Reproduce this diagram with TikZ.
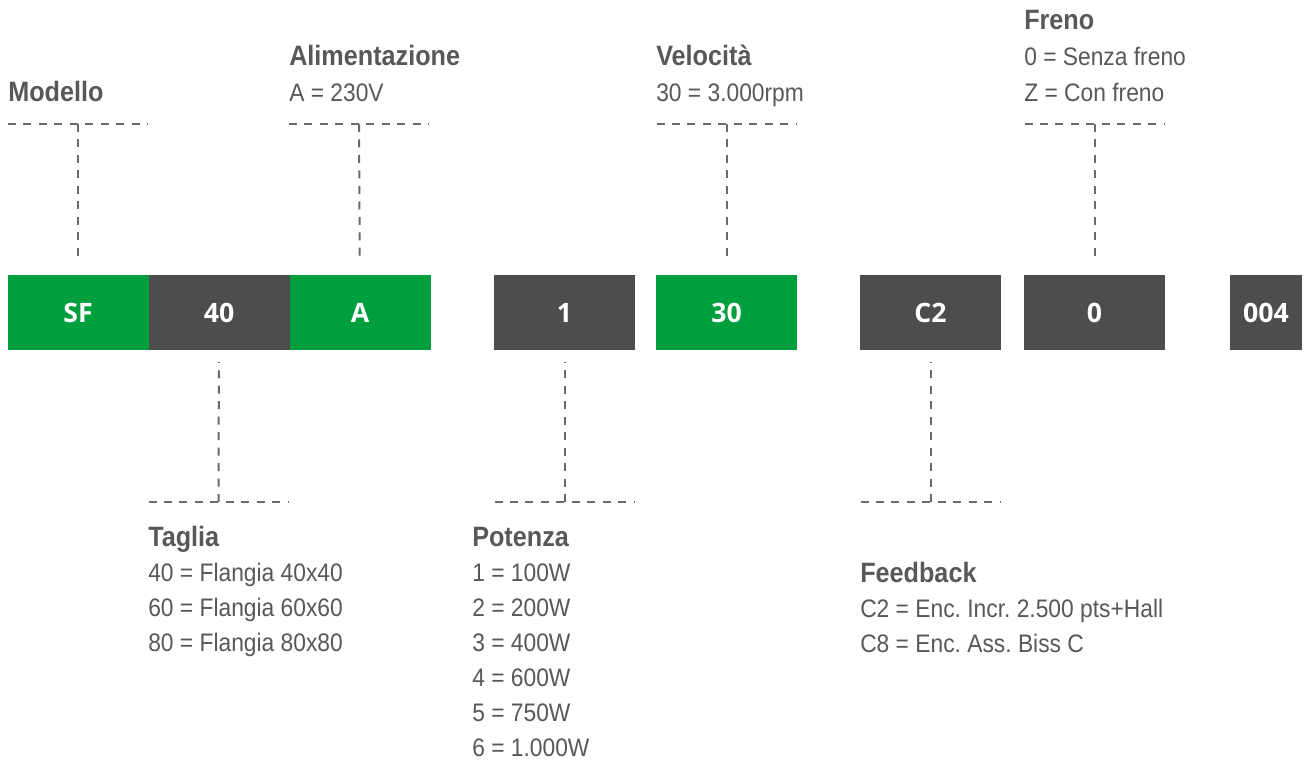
\documentclass[tikz,border=0pt]{standalone}
\usepackage{fontspec}
\setmainfont{Liberation Sans}[FakeStretch=0.9]
\newfontfamily\codefont{Open Sans}
\usetikzlibrary{positioning}
\frenchspacing

\definecolor{codegreen}{HTML}{009F3D}
\definecolor{codegrey}{HTML}{4F4D4B}
\definecolor{textgrey}{HTML}{58585A}
\definecolor{linegrey}{HTML}{6A6A6A}

\begin{document}
\begin{tikzpicture}[x=0.75pt, y=-0.75pt]

\tikzset{
  field/.style = {minimum height=56.25pt, minimum width=105.75pt, inner sep=0pt, outer sep=0pt, text=white, font=\codefont\bfseries\fontsize{20}{24}\selectfont},
  greenfield/.style = {field, fill=codegreen},
  greyfield/.style = {field, fill=codegrey},
  guide/.style = {draw=linegrey, line width=1.5pt, dash pattern=on 6pt off 5.6pt},
  head/.style = {anchor=base west, inner sep=0pt, text=textgrey, font=\bfseries\fontsize{21}{25}\selectfont},
  val/.style = {anchor=base west, inner sep=0pt, text=textgrey, font=\fontsize{19}{23}\selectfont}
}

\useasboundingbox (0,0) rectangle (1306,764);

%Code fields
\node [greenfield] at (78,312.5) (sf) {SF};
\node [greyfield, right=0pt of sf] (f40) {40};
\node [greenfield, right=0pt of f40] (fa) {A};
\node [greyfield] at (564.5,312.5) (f1) {1};
\node [greenfield] at (726.5,312.5) (f30) {30};
\node [greyfield] at (930.5,312.5) (fc2) {C2};
\node [greyfield] at (1094.5,312.5) (f0) {0};
\node [greyfield, minimum width=54pt] at (1266,312.5) (f004) {004};

%Labels above
\node [head] at (8,101) (modello) {Modello};

\node [head] at (289,65) (alim) {Alimentazione};
\node [val] at (289,101) (alim-1) {A = 230V};

\node [head] at (656,65) (velocita) {Velocità};
\node [val] at (656,101) (velocita-1) {30 = 3.000rpm};

\node [head] at (1024,29) (freno) {Freno};
\foreach \t [count=\i] in {0 = Senza freno, Z = Con freno}
  \node [val] at (1024,29+36*\i) (freno-\i) {\t};

%Labels below
\node [head] at (148,546) (taglia) {Taglia};
\foreach \t [count=\i] in {40 = Flangia 40x40, 60 = Flangia 60x60, 80 = Flangia 80x80}
  \node [val] at (148,546+35*\i) (taglia-\i) {\t};

\node [head] at (472,546) (potenza) {Potenza};
\foreach \t [count=\i] in {1 = 100W, 2 = 200W, 3 = 400W, 4 = 600W, 5 = 750W, 6 = 1.000W}
  \node [val] at (472,546+35*\i) (potenza-\i) {\t};

\node [head] at (860,582) (feedback) {Feedback};
\foreach \t [count=\i] in {C2 = Enc. Incr. 2.500 pts+Hall, C8 = Enc. Ass. Biss C}
  \node [val] at (860,582+35*\i) (feedback-\i) {\t};

%Guide lines
\coordinate (modello-tap) at (78,124);
\coordinate (alim-tap) at (359,124);
\coordinate (velocita-tap) at (726.5,124);
\coordinate (freno-tap) at (1094.5,124);
\coordinate (taglia-tap) at (218.5,502);
\coordinate (potenza-tap) at (564.5,502);
\coordinate (feedback-tap) at (930.5,502);

\draw [guide] (modello-tap) ++(-70,0) -- ++(140,0);
\draw [guide] (alim-tap) ++(-70,0) -- ++(140,0);
\draw [guide] (velocita-tap) ++(-70,0) -- ++(140,0);
\draw [guide] (freno-tap) ++(-70,0) -- ++(140,0);
\draw [guide] (taglia-tap) ++(-70,0) -- ++(140,0);
\draw [guide] (potenza-tap) ++(-70,0) -- ++(140,0);
\draw [guide] (feedback-tap) ++(-70,0) -- ++(140,0);

\draw [guide, shorten >=9pt] (modello-tap) -- (sf);
\draw [guide, shorten >=9pt] (alim-tap) -- (fa);
\draw [guide, shorten >=9pt] (velocita-tap) -- (f30);
\draw [guide, shorten >=9pt] (freno-tap) -- (f0);
\draw [guide, shorten >=9pt] (taglia-tap) -- (f40);
\draw [guide, shorten >=9pt] (potenza-tap) -- (f1);
\draw [guide, shorten >=9pt] (feedback-tap) -- (fc2);

\end{tikzpicture}
\end{document}
